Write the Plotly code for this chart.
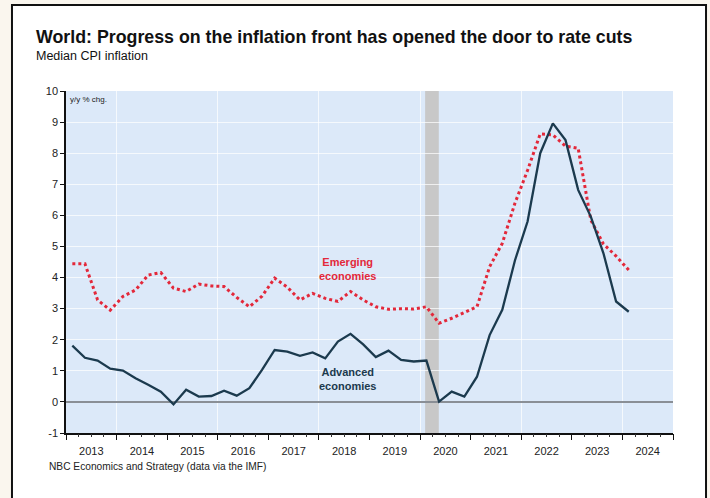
import pandas as pd
import plotly.graph_objects as go

# Quarterly median CPI inflation, y/y % change, 2013Q1 - 2024Q1
quarters = pd.period_range("2013Q1", "2024Q1", freq="Q")
advanced = [1.81, 1.42, 1.33, 1.07, 1.01, 0.76, 0.55, 0.33, -0.08, 0.39,
            0.17, 0.19, 0.36, 0.20, 0.44, 1.03, 1.67, 1.62, 1.48, 1.59,
            1.40, 1.94, 2.19, 1.85, 1.44, 1.65, 1.35, 1.30, 1.33, 0.01,
            0.33, 0.17, 0.81, 2.15, 2.96, 4.55, 5.80, 8.00, 8.96, 8.42,
            6.82, 5.96, 4.78, 3.23, 2.90]
emerging = [4.44, 4.44, 3.28, 2.95, 3.39, 3.60, 4.08, 4.16, 3.66, 3.55,
            3.79, 3.73, 3.71, 3.36, 3.06, 3.40, 3.98, 3.69, 3.28, 3.49,
            3.33, 3.23, 3.55, 3.28, 3.06, 2.98, 3.00, 2.99, 3.06, 2.53,
            2.69, 2.87, 3.06, 4.35, 5.10, 6.39, 7.45, 8.62, 8.59, 8.23,
            8.16, 5.85, 5.08, 4.69, 4.24]
years = list(range(2013, 2025))
y_ticks = list(range(-1, 11))
recession = (2020.1, 2020.37)

# mid-quarter position on a decimal-year axis
xq = [p.year + (p.quarter - 1) / 4 + 0.125 for p in quarters]
year_edges = years + [years[-1] + 1]
grid_years = [y for y in year_edges if y % 2 == 0]

FONT = "Liberation Sans, Arial, sans-serif"
NAVY = "#1b3a4e"
RED = "#e3283a"
GRID = "rgba(255,255,255,0.7)"

fig = go.Figure()
fig.add_trace(go.Scatter(x=xq, y=emerging, mode="lines",
                         line=dict(color=RED, width=3, dash="dot"),
                         hoverinfo="skip", showlegend=False))
fig.add_trace(go.Scatter(x=xq, y=advanced, mode="lines",
                         line=dict(color=NAVY, width=2.3),
                         hoverinfo="skip", showlegend=False))
# helper trace so the tick-mark axis is rendered
fig.add_trace(go.Scatter(x=[years[0]], y=[None], xaxis="x2", mode="lines",
                         hoverinfo="skip", showlegend=False))

shapes = [
    # card with black frame
    dict(type="rect", xref="paper", yref="paper", x0=-0.089, x1=1.0544,
         y0=-0.21, y1=1.2515, fillcolor="white",
         line=dict(color="#111111", width=2), layer="below"),
    # plotting area background
    dict(type="rect", xref="paper", yref="paper", x0=0, x1=1, y0=0, y1=1,
         fillcolor="#dce9f9", line=dict(width=0), layer="below"),
    # recession band
    dict(type="rect", xref="x", yref="paper", x0=recession[0], x1=recession[1],
         y0=0, y1=1, fillcolor="#c8c8c8", line=dict(width=0), layer="between"),
]

annotations = [
    dict(text="<b>World: Progress on the inflation front has opened the door to rate cuts</b>",
         xref="paper", yref="paper", x=-0.0527, y=1.158, xanchor="left",
         yanchor="middle", showarrow=False,
         font=dict(family=FONT, size=17.8, color="#111111")),
    dict(text="Median CPI inflation", xref="paper", yref="paper",
         x=-0.0527, y=1.1023, xanchor="left", yanchor="middle", showarrow=False,
         font=dict(family=FONT, size=12.5, color="#111111")),
    dict(text="NBC Economics and Strategy (data via the IMF)", xref="paper",
         yref="paper", x=-0.0313, y=-0.0965, xanchor="left", yanchor="middle",
         showarrow=False, font=dict(family=FONT, size=10.2, color="#222222")),
    dict(text="y/y % chg.", xref="paper", yref="y", x=0.004, y=9.74,
         xanchor="left", yanchor="middle", showarrow=False,
         font=dict(family=FONT, size=8, color="#222222")),
    dict(text="<b>Emerging<br>economies</b>", xref="x", yref="y",
         x=2018.56, y=4.26, xanchor="center", yanchor="middle", showarrow=False,
         font=dict(family=FONT, size=11, color=RED)),
    dict(text="<b>Advanced<br>economies</b>", xref="x", yref="y",
         x=2018.56, y=0.74, xanchor="center", yanchor="middle", showarrow=False,
         font=dict(family=FONT, size=11, color=NAVY)),
]

fig.update_layout(
    width=710, height=498,
    margin=dict(l=66, r=37, t=91, b=65),
    paper_bgcolor="#faf6ee",
    plot_bgcolor="rgba(0,0,0,0)",
    shapes=shapes,
    annotations=annotations,
    font=dict(family=FONT, size=11, color="#222222"),
    xaxis=dict(
        range=[years[0], years[-1] + 1],
        tickmode="array",
        tickvals=[y + 0.5 for y in years],
        ticktext=[str(y) for y in years],
        ticks="", showgrid=False, zeroline=False,
        showline=True, linecolor="#111111", linewidth=1.5,
        tickfont=dict(family=FONT, size=11, color="#222222"),
        ticklabelstandoff=7,
        minor=dict(tickmode="array", tickvals=grid_years,
                   showgrid=True, gridcolor=GRID, gridwidth=1.2, ticks=""),
    ),
    xaxis2=dict(
        overlaying="x", side="bottom", matches="x",
        range=[years[0], years[-1] + 1],
        tickmode="array",
        tickvals=year_edges,
        ticks="outside", ticklen=6, tickwidth=1.2, tickcolor="#111111",
        showticklabels=False, showgrid=False, zeroline=False, showline=False,
        minor=dict(dtick=0.25, tick0=years[0], ticks="outside", ticklen=3,
                   tickwidth=1, tickcolor="#333333", showgrid=False),
    ),
    yaxis=dict(
        range=[-1, 10],
        tickmode="array", tickvals=y_ticks, ticktext=[str(v) for v in y_ticks],
        ticks="outside", ticklen=4, tickwidth=1.2, tickcolor="#111111",
        showline=True, linecolor="#111111", linewidth=1.5,
        showgrid=True, gridcolor=GRID, gridwidth=1.2,
        zeroline=True, zerolinecolor="#8a8f96", zerolinewidth=1.5,
        tickfont=dict(family=FONT, size=11, color="#222222"),
    ),
)

fig.write_html("out.html")
